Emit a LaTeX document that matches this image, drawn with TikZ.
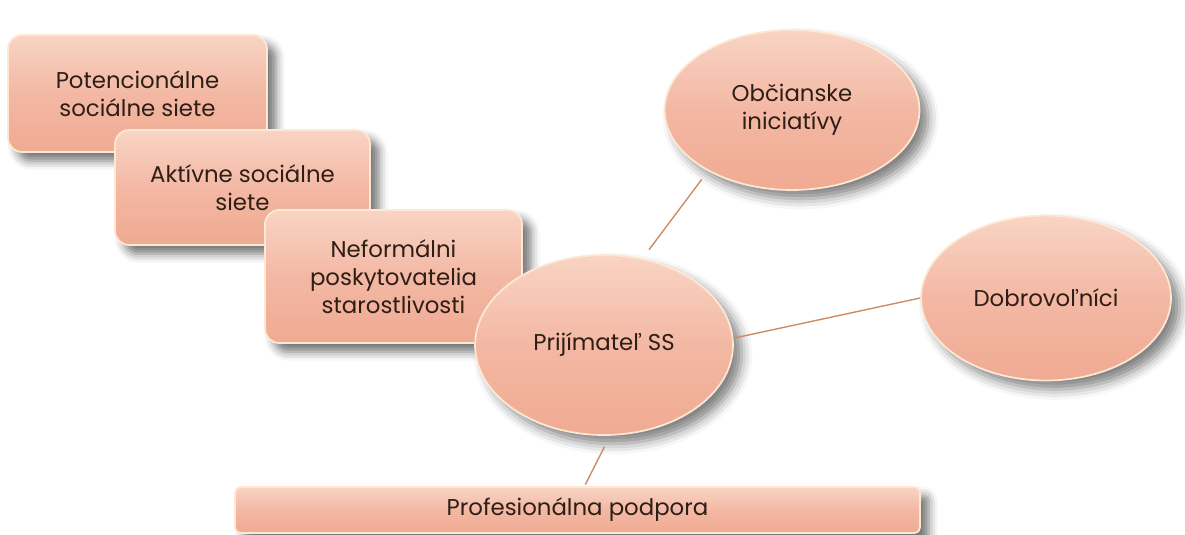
\documentclass[tikz,border=0pt]{standalone}
\usepackage{fontspec}
\setmainfont{Poppins}
\usetikzlibrary{shapes.geometric,shadows.blur}
\definecolor{salmon}{RGB}{243,184,164}
\definecolor{salmontop}{RGB}{249,212,196}
\definecolor{salmonbot}{RGB}{240,170,146}
\definecolor{rim}{RGB}{253,232,212}
\definecolor{ink}{RGB}{45,30,22}
\definecolor{wire}{RGB}{205,140,100}
\begin{document}
\begin{tikzpicture}[x=0.02cm,y=-0.02cm,
    txt/.style={text=ink,align=center,inner sep=0pt,font=\fontsize{13}{15.8}\selectfont},
    box/.style={txt,rectangle,rounded corners=8pt,draw=rim,line width=1pt,
      top color=salmontop,bottom color=salmonbot,middle color=salmon,
      blur shadow={shadow xshift=5pt,shadow yshift=-5pt,shadow blur radius=5pt,shadow opacity=55}},
    blob/.style={txt,ellipse,draw=rim,line width=1pt,
      top color=salmontop,bottom color=salmonbot,middle color=salmon,
      blur shadow={shadow xshift=5pt,shadow yshift=-5pt,shadow blur radius=6pt,shadow opacity=50}},
    link/.style={draw=wire,line width=0.8pt}]
  \useasboundingbox (0,0) rectangle (1185,534);
  % stacked boxes
  \node[box,minimum width=5.18cm,minimum height=2.34cm] (potential) at (137.5,93.5) {Potencionálne\\sociálne siete};
  \node[box,minimum width=5.1cm,minimum height=2.3cm] (active) at (242.5,187.5) {Aktívne sociálne\\siete};
  \node[box,minimum width=5.14cm,minimum height=2.66cm] (informal) at (393.5,276.5) {Neformálni\\poskytovatelia\\starostlivosti};
  % ellipses
  \node[blob,minimum width=5.16cm,minimum height=3.6cm] (recv) at (604,345) {Prijímateľ SS};
  \node[blob,minimum width=5.1cm,minimum height=3.2cm] (civic) at (792,110) {Občianske\\iniciatívy};
  \node[blob,minimum width=5.0cm,minimum height=3.3cm] (vol) at (1046,298) {Dobrovoľníci};
  % bottom bar
  \node[box,rounded corners=3pt,minimum width=13.7cm,minimum height=0.92cm] (prof) at (577.5,510) {Profesionálna podpora};
  % links
  \draw[link,shorten <=6pt,shorten >=6pt] (recv.66) -- (civic.216);
  \draw[link] (recv.3) -- (vol.180);
  \draw[link,shorten <=7pt,shorten >=1pt] ([xshift=0.12cm]recv.south) -- ([xshift=0.14cm]prof.north);
\end{tikzpicture}
\end{document}
